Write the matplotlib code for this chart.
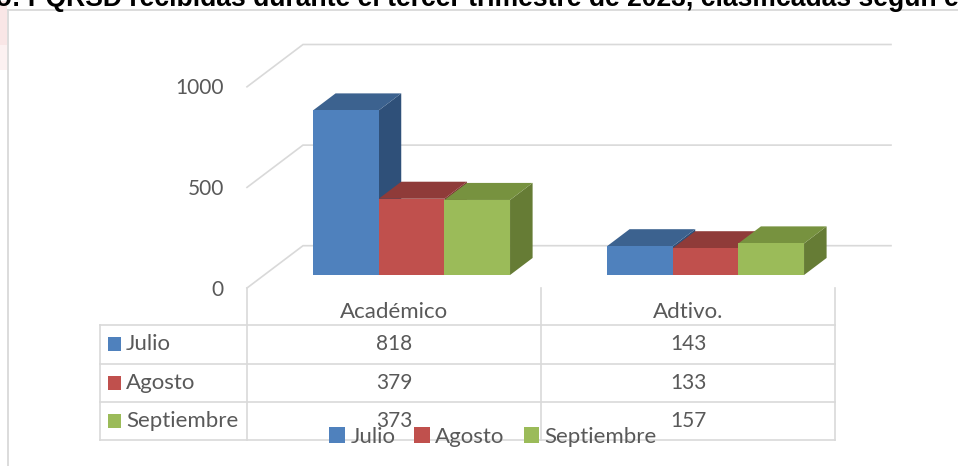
import matplotlib
matplotlib.use("Agg")
import matplotlib.pyplot as plt
from matplotlib.patches import Polygon, Rectangle, Patch
from matplotlib.lines import Line2D

# ---------------- data ----------------
categories = ["Académico", "Adtivo."]
series_names = ["Julio", "Agosto", "Septiembre"]
julio = [818, 143]
agosto = [379, 133]
septiembre = [373, 157]
y_ticks = [0, 500, 1000]
title_prefix = "Gráfico: "
title_main = "PQRSD recibidas durante el tercer trimestre de 2023, clasificadas según"
title_suffix = " el tipo"

series_values = [julio, agosto, septiembre]
front_colors = ["#4F81BD", "#C0504D", "#9BBB59"]
top_colors = ["#3C628F", "#8F3B39", "#77923F"]
side_colors = ["#2F5079", "#7A302E", "#667C35"]

FONT = "Lato"
FS = 16      # words
FSN = 15     # numbers
TXT = "#595959"
GRID = "#d9d9d9"

W, H = 958, 466
fig = plt.figure(figsize=(W / 100, H / 100), dpi=100)
ax = fig.add_axes([0, 0, 1, 1])
ax.set_axis_off()

PX_CAT, X0 = 294.0, 394.0
PX_VAL, Y0 = 0.2012, 288.0
ax.set_xlim(-X0 / PX_CAT, (W - X0) / PX_CAT)
ax.set_ylim((Y0 - H) / PX_VAL, Y0 / PX_VAL)


def fx(px):
    return (px - X0) / PX_CAT


def fy(py):
    return (Y0 - py) / PX_VAL


DX = 56.0 / PX_CAT
DY = 42.3 / PX_VAL


def proj(x, v, d):
    return (x + d * DX, v + d * DY)


ncat = len(categories)
nser = len(series_values)
left, right = -0.5, ncat - 0.5

# back wall / floor gridlines + y labels
for v in y_ticks:
    pts = [proj(left, v, 0), proj(left, v, 1), proj(right, v, 1)]
    xs, ys = zip(*pts)
    ax.plot(xs, ys, color=GRID, lw=1.2, zorder=1, solid_joinstyle="miter")
    ax.text(left - 23 / PX_CAT, v - 1.5 / PX_VAL, f"{v}", ha="right", va="center",
            fontsize=FSN, family=FONT, color=TXT)

# 3D bars
bw = 0.2234
g0 = -0.334
d0, d1 = 0.307, 0.71
z = 2
for i in range(ncat):
    for j in range(nser):
        v = series_values[j][i]
        xa = i + g0 + j * bw
        xb = xa + bw
        front = [proj(xa, 0, d0), proj(xb, 0, d0), proj(xb, v, d0), proj(xa, v, d0)]
        top = [proj(xa, v, d0), proj(xb, v, d0), proj(xb, v, d1), proj(xa, v, d1)]
        side = [proj(xb, 0, d0), proj(xb, v, d0), proj(xb, v, d1), proj(xb, 0, d1)]
        ax.add_patch(Polygon(side, closed=True, facecolor=side_colors[j], edgecolor="none", zorder=z))
        ax.add_patch(Polygon(top, closed=True, facecolor=top_colors[j], edgecolor="none", zorder=z + 0.01))
        ax.add_patch(Polygon(front, closed=True, facecolor=front_colors[j], edgecolor="none", zorder=z + 0.02))
        z += 0.1

# ---------------- data table ----------------
tab_top, tab_bot = 325, 440
row_edges = [325, 363.5, 402, 440]
tlw = 1.2
for k in range(ncat + 1):
    xk = -0.5 + k
    ax.plot([xk, xk], [0, fy(tab_bot)], color=GRID, lw=tlw, zorder=1)
for ry in row_edges:
    ax.plot([fx(100), right], [fy(ry), fy(ry)], color=GRID, lw=tlw, zorder=1)
ax.plot([fx(100), fx(100)], [fy(tab_top), fy(tab_bot)], color=GRID, lw=tlw, zorder=1)

for i, c in enumerate(categories):
    ax.text(i, fy(312), c, ha="center", va="center", fontsize=FS, family=FONT, color=TXT)

for j, name in enumerate(series_names):
    cy = (row_edges[j] + row_edges[j + 1]) / 2
    ax.add_patch(Rectangle((fx(108), fy(cy + 7)), fx(121) - fx(108), fy(cy - 7) - fy(cy + 7),
                           facecolor=front_colors[j], edgecolor="none", zorder=3))
    ax.text(fx(126), fy(cy), name, ha="left", va="center", fontsize=FS, family=FONT, color=TXT)
    for i in range(ncat):
        ax.text(i, fy(cy), f"{series_values[j][i]}", ha="center", va="center",
                fontsize=FSN, family=FONT, color=TXT)

# legend
handles = [Patch(facecolor=c, edgecolor="none") for c in front_colors]
leg = ax.legend(handles, series_names, loc="center", bbox_to_anchor=(493 / W, 1 - 437 / H),
                bbox_transform=fig.transFigure, ncol=3, frameon=False,
                prop={"family": FONT, "size": FS}, handlelength=0.7, handleheight=0.7,
                handletextpad=0.25, columnspacing=0.85, borderpad=0, borderaxespad=0)
for t in leg.get_texts():
    t.set_color(TXT)
leg.set_zorder(10)

# chart area border (top and left visible)
fig.add_artist(Line2D([8 / W, 8 / W], [1 - 10 / H, 0], transform=fig.transFigure, color=GRID, lw=1.3))
fig.add_artist(Line2D([8 / W, 1], [1 - 10 / H, 1 - 10 / H], transform=fig.transFigure, color=GRID, lw=1.3))
# faint watermark tint at left edge
for k, (hh, col) in enumerate([(70, "#fcf1f1"), (45, "#f9e6e6")]):
    fig.add_artist(Rectangle((0, 1 - hh / H), 7 / W, (hh - 1) / H, transform=fig.transFigure,
                             facecolor=col, edgecolor="none"))

# ---------------- clipped title ----------------
fig.canvas.draw()
r = fig.canvas.get_renderer()
tfam = "Liberation Sans"
probe = fig.text(0, 0.5, title_main, fontsize=15, family=tfam, weight="bold")
wmain = probe.get_window_extent(r).width
probe.remove()
tfs = 15 * (941 - 28) / wmain
p1 = fig.text(0, 0.5, title_prefix + "P", fontsize=tfs, family=tfam, weight="bold")
p2 = fig.text(0, 0.5, "P", fontsize=tfs, family=tfam, weight="bold")
wpre = p1.get_window_extent(r).width - p2.get_window_extent(r).width
p1.remove()
p2.remove()
fig.text((28 - wpre) / W, 1 - 6 / H, title_prefix + title_main + title_suffix,
         fontsize=tfs, family=tfam, weight="bold", color="black", va="baseline", ha="left")

fig.savefig("out.png", dpi=100)
